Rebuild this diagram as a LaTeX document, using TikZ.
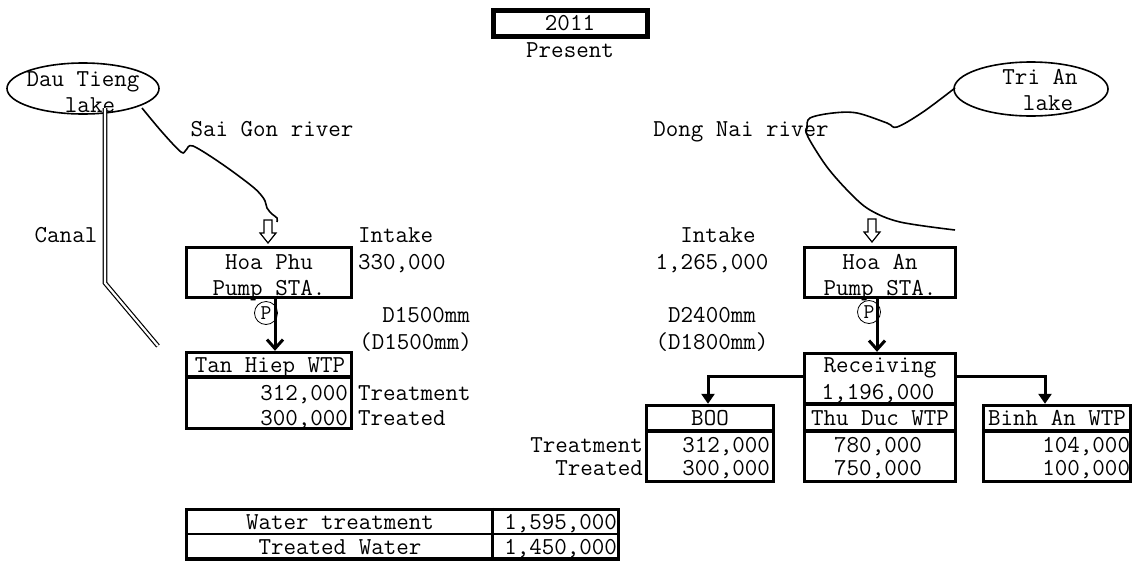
\documentclass[tikz,border=0pt]{standalone}
\usepackage{fontspec}
\usetikzlibrary{arrows.meta,shapes.geometric}
\begin{document}
\begin{tikzpicture}[x=1pt,y=-1pt,
  every node/.style={font=\ttfamily\fontsize{24.3}{26}\selectfont},
  lbl/.style={inner sep=0pt, outer sep=0pt, text height=14.8pt, text depth=0pt},
  box/.style={draw, line width=3.4pt, inner sep=0pt},
  div/.style={line width=3.4pt},
  thin/.style={line width=1.6pt},
  lakeshape/.style={ellipse, draw, line width=1.6pt, inner sep=0pt},
  mainarr/.style={line width=3pt, -{Straight Barb[length=9pt,width=16pt]}},
  brarr/.style={line width=3pt, -{Triangle[length=10pt,width=13pt]}},
  pmark/.style={circle, draw, line width=0.8pt, minimum size=23pt, inner sep=0pt, font=\ttfamily\fontsize{21}{22}\selectfont},
  canal/.style={double, double distance=2.2pt, line width=1.2pt},
  harrow/.pic={\draw[line width=1.2pt] (-4,0) -- (-4,13) -- (-8,13) -- (0,23) -- (8,13) -- (4,13) -- (4,0) -- cycle;}
]
\useasboundingbox (0,0) rectangle (1137,560);

% title
\node[box, line width=5pt, minimum width=154pt, minimum height=26pt] (year) at (570,23) {};
\node[lbl] (yeart) at (570,23) {2011};
\node[lbl] (present) at (570,50) {Present};

% lakes
\node[lakeshape, minimum width=152pt, minimum height=51pt] (dau) at (83,88.5) {};
\node[lbl] (daut1) at (83,79) {Dau Tieng};
\node[lbl] (daut2) at (90,105) {lake};
\node[lakeshape, minimum width=154pt, minimum height=54pt] (tri) at (1031,89) {};
\node[lbl] (trit1) at (1040,77) {Tri An};
\node[lbl] (trit2) at (1048,103) {lake};

% rivers
\node[lbl] (sgr) at (272,129) {Sai Gon river};
\node[lbl] (dnr) at (741,129) {Dong Nai river};
\draw[thin] plot[smooth, tension=0.55] coordinates {(142,108) (162,132) (181,152) (186,150) (193,146) (222,164) (253,187) (264,199) (267,208) (272,214) (277,218) (277,222)};
\draw[thin] plot[smooth, tension=0.55] coordinates {(955,88) (923,112) (897,127) (887,123) (857,113) (833,113) (810,118) (807,128) (808,137) (827,167) (850,193) (870,210) (900,222) (955,230)};

% canal
\node[lbl] (canalt) at (66,235) {Canal};
\draw[canal] (105,108) -- (105,283) -- (158,346);

% left chain
\pic at (268,220) {harrow};
\node[box, minimum width=165pt, minimum height=50pt] (hoaphu) at (269,272.5) {};
\node[lbl] (hp1) at (269,262) {Hoa Phu};
\node[lbl] (hp2) at (269,288) {Pump STA.};
\node[lbl, anchor=west] (in1) at (358,235) {Intake};
\node[lbl, anchor=west] (in1v) at (358,262) {330,000};
\node[lbl, anchor=east] (d1) at (470,315) {D1500mm};
\node[lbl, anchor=east] (d1b) at (472,342) {(D1500mm)};
\node[pmark] (p1) at (266,313) {P};
\node[box, minimum width=165pt, minimum height=76pt] (tanhiep) at (269,390.5) {};
\coordinate (ya) at (0,377);
\draw[div] (tanhiep.west |- ya) -- (tanhiep.east |- ya);
\draw[mainarr] ([xshift=6pt]hoaphu.south) -- ([xshift=6pt]tanhiep.north);
\node[lbl] (th) at (270,365) {Tan Hiep WTP};
\node[lbl, anchor=east] (th1) at (348,393) {312,000};
\node[lbl, anchor=east] (th2) at (348,418) {300,000};
\node[lbl, anchor=west] (th1l) at (358,393) {Treatment};
\node[lbl, anchor=west] (th2l) at (358,418) {Treated};

% right chain
\pic at (872,219) {harrow};
\node[box, minimum width=151pt, minimum height=50pt] (hoaan) at (880,272.5) {};
\node[lbl] (ha1) at (880,262) {Hoa An};
\node[lbl] (ha2) at (880,288) {Pump STA.};
\node[lbl] (in2) at (718,235) {Intake};
\node[lbl] (in2v) at (712,262) {1,265,000};
\node[lbl] (d2) at (712,315) {D2400mm};
\node[lbl] (d2b) at (712,342) {(D1800mm)};
\node[pmark] (p2) at (869,312) {P};
\node[box, minimum width=151pt, minimum height=50.5pt] (recv) at (880,378.75) {};
\draw[mainarr] ([xshift=-3pt]hoaan.south) -- ([xshift=-3pt]recv.north);
\node[lbl] (rv1) at (880,365) {Receiving};
\node[lbl] (rv2) at (878,392) {1,196,000};

\node[box, minimum width=151pt, minimum height=77.5pt] (thuduc) at (880,442.75) {};
\node[box, minimum width=127pt, minimum height=76pt] (boo) at (710,443.5) {};
\node[box, minimum width=147pt, minimum height=76pt] (binhan) at (1057,443.5) {};
\coordinate (yb) at (0,431);
\draw[div] (boo.west |- yb) -- (boo.east |- yb);
\draw[div] (thuduc.west |- yb) -- (thuduc.east |- yb);
\draw[div] (binhan.west |- yb) -- (binhan.east |- yb);

\coordinate (yc) at (0,376);
\draw[brarr] (recv.west |- yc) -| ([xshift=-2pt]boo.north);
\draw[brarr] (recv.east |- yc) -| ([xshift=-12pt]binhan.north);

\node[lbl] (boot) at (710,418) {BOO};
\node[lbl] (tdt) at (880,418) {Thu Duc WTP};
\node[lbl] (bat) at (1057,418) {Binh An WTP};
\node[lbl, anchor=east] (b1) at (770,445) {312,000};
\node[lbl, anchor=east] (b2) at (770,468) {300,000};
\node[lbl] (t1) at (878,445) {780,000};
\node[lbl] (t2) at (878,468) {750,000};
\node[lbl, anchor=east] (a1) at (1130,445) {104,000};
\node[lbl, anchor=east] (a2) at (1130,468) {100,000};
\node[lbl, anchor=east] (tl1) at (643,445) {Treatment};
\node[lbl, anchor=east] (tl2) at (643,468) {Treated};

% summary table
\node[box, minimum width=432pt, minimum height=49.5pt] (tbl) at (402.5,534.25) {};
\coordinate (yd) at (0,534);
\coordinate (xd) at (492,0);
\draw[line width=2.4pt] (tbl.west |- yd) -- (tbl.east |- yd);
\draw[line width=3pt] (tbl.north -| xd) -- (tbl.south -| xd);
\node[lbl] (s1) at (340,522) {Water treatment};
\node[lbl] (s2) at (340,547) {Treated Water};
\node[lbl, anchor=east] (s1v) at (617,522) {1,595,000};
\node[lbl, anchor=east] (s2v) at (617,547) {1,450,000};
\end{tikzpicture}
\end{document}
